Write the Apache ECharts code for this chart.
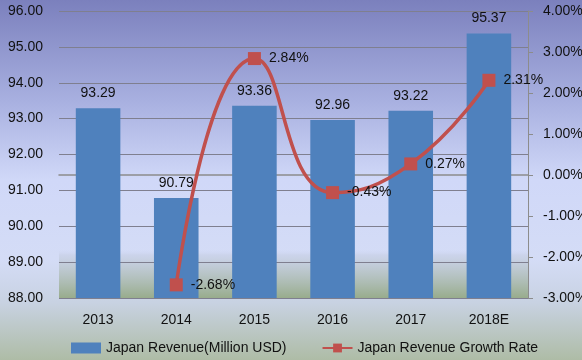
<!DOCTYPE html>
<html><head><meta charset="utf-8">
<script src="https://cdn.jsdelivr.net/npm/echarts@6/dist/echarts.min.js"></script>
<style>html,body{margin:0;padding:0;}#c{width:582px;height:360px;}</style>
</head><body><div id="c"></div>
<script>
const categories = ['2013', '2014', '2015', '2016', '2017', '2018E'];
const revenue = [93.29, 90.79, 93.36, 92.96, 93.22, 95.37];
const growth = [null, -2.68, 2.84, -0.43, 0.27, 2.31];
const leftTicks = {min: 88, max: 96, interval: 1};
const rightTicks = {min: -3, max: 4, interval: 1};

const font = 'Liberation Sans, Arial, sans-serif';
const chart = echarts.init(document.getElementById('c'));
chart.setOption({
  animation: false,
  backgroundColor: new echarts.graphic.LinearGradient(0, 0, 0, 1, [
    {offset: 0, color: '#7b80bd'},
    {offset: 0.28, color: '#a8b0e0'},
    {offset: 0.5, color: '#d0d8f8'},
    {offset: 0.72, color: '#d4dcf6'},
    {offset: 0.84, color: '#c8d2e2'},
    {offset: 1, color: '#aebca6'}
  ]),
  textStyle: {fontFamily: font},
  grid: {
    left: 59, right: 54, top: 11, bottom: 62, show: true, borderWidth: 0,
    outerBoundsMode: 'none', containLabel: false,
    backgroundColor: new echarts.graphic.LinearGradient(0, 0, 0, 1, [
      {offset: 0, color: 'rgba(210,218,248,0)'},
      {offset: 0.83, color: 'rgba(210,218,248,0)'},
      {offset: 0.85, color: 'rgba(200,208,230,0.7)'},
      {offset: 1, color: '#98ac8c'}
    ])
  },
  legend: {
    bottom: 0, left: 66, itemWidth: 30, itemHeight: 11, itemGap: 35,
    textStyle: {fontSize: 14, color: '#111', fontFamily: font},
    data: [
      {name: 'Japan Revenue(Million USD)', icon: 'rect'},
      {name: 'Japan Revenue Growth Rate'}
    ]
  },
  xAxis: {
    type: 'category', data: categories,
    axisLine: {lineStyle: {color: '#8c8c8c', width: 1.5}},
    axisTick: {show: false},
    axisLabel: {fontSize: 14, color: '#111', margin: 15}
  },
  yAxis: [{
    type: 'value', min: leftTicks.min, max: leftTicks.max, interval: leftTicks.interval,
    axisLine: {show: false}, axisTick: {show: false},
    axisLabel: {fontSize: 14, color: '#111', margin: 16, formatter: v => v.toFixed(2)},
    splitLine: {lineStyle: {color: '#7f7f8f', width: 1}}
  }, {
    type: 'value', min: rightTicks.min, max: rightTicks.max, interval: rightTicks.interval,
    axisLine: {show: true, lineStyle: {color: '#8c8c8c'}},
    axisTick: {show: true, length: 5, lineStyle: {color: '#8c8c8c'}},
    axisLabel: {fontSize: 14, color: '#111', margin: 15, formatter: v => v.toFixed(2) + '%'},
    splitLine: {show: false}
  }],
  series: [{
    name: 'Japan Revenue(Million USD)', type: 'bar', data: revenue,
    barWidth: '57%', itemStyle: {color: '#4f81bd'},
    label: {show: true, position: 'top', distance: 8, fontSize: 14, color: '#111', formatter: p => p.value.toFixed(2)}
  }, {
    name: 'Japan Revenue Growth Rate', type: 'line', yAxisIndex: 1, data: growth,
    smooth: 0.5, symbol: 'rect', symbolSize: 13,
    lineStyle: {color: '#c0504d', width: 3.5}, itemStyle: {color: '#c0504d'},
    label: {show: true, position: 'right', distance: 8, fontSize: 14, color: '#111', formatter: p => p.value.toFixed(2) + '%'}
  }]
});
</script></body></html>
